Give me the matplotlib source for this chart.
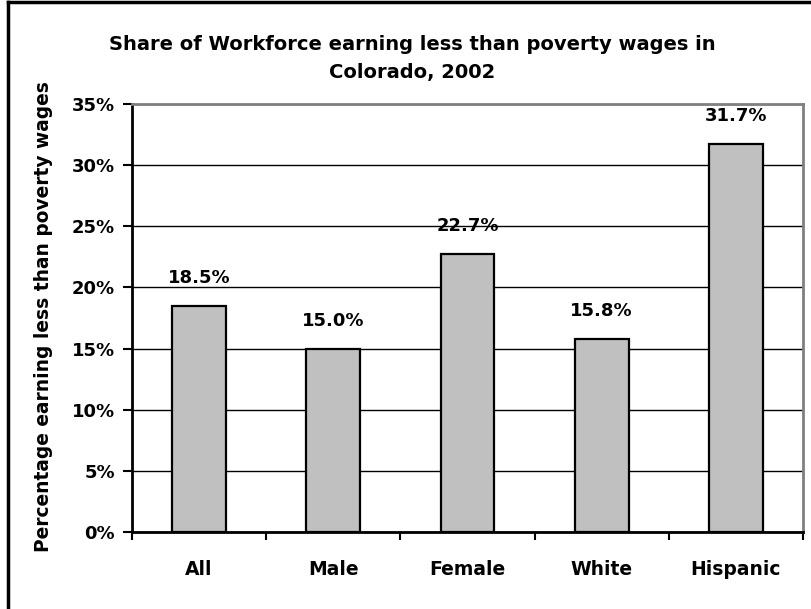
import matplotlib
matplotlib.use("Agg")
import matplotlib.pyplot as plt
from matplotlib.lines import Line2D
from matplotlib.ticker import FuncFormatter, FixedLocator
import numpy as np

# Data
categories = ["All", "Male", "Female", "White", "Hispanic"]
shares = [18.5, 15.0, 22.7, 15.8, 31.7]
y_ticks = [0, 5, 10, 15, 20, 25, 30, 35]

title_lines = ["Share of Workforce earning less than poverty wages in", "Colorado, 2002"]
y_label = "Percentage earning less than poverty wages"

plt.rcParams["font.family"] = ["DejaVu Sans"]
plt.rcParams["font.weight"] = "bold"

W, H = 811, 609
fig = plt.figure(figsize=(W / 100, H / 100), dpi=100)

# plot area in pixel coordinates
left, right, top, bottom = 132, 803, 104, 532
ax = fig.add_axes([left / W, 1 - bottom / H, (right - left) / W, (bottom - top) / H])

x = np.arange(len(categories))
ax.bar(x, shares, width=0.4, color="#C0C0C0", edgecolor="black", linewidth=1.6, zorder=3)

for xi, v in zip(x, shares):
    ax.annotate(f"{v:.1f}%", (xi, v), xytext=(0, 16.5), textcoords="offset points",
                ha="center", va="baseline", fontsize=13, fontweight="bold", zorder=4)

ax.set_xlim(-0.5, len(categories) - 0.5)
ax.set_ylim(0, 35)
ax.set_yticks(y_ticks)
ax.yaxis.set_major_formatter(FuncFormatter(lambda v, p: f"{v:.0f}%"))
ax.yaxis.grid(True, color="black", linewidth=1.0, zorder=0)
ax.set_axisbelow(True)

# category labels centred, tick marks between categories
ax.set_xticks(x)
ax.set_xticklabels(categories, fontsize=13.5, fontweight="bold")
ax.tick_params(axis="x", which="major", length=0, pad=20)
ax.xaxis.set_minor_locator(FixedLocator(np.arange(-0.5, len(categories), 1.0)))
ax.tick_params(axis="x", which="minor", length=6, width=1.5, direction="out", color="black")
ax.tick_params(axis="y", length=6.5, width=1.5, direction="out", labelsize=13, pad=5.8)
for lbl in ax.get_yticklabels():
    lbl.set_fontweight("bold")

for side in ("top", "right"):
    ax.spines[side].set_color("#808080")
    ax.spines[side].set_linewidth(2)
for side in ("left", "bottom"):
    ax.spines[side].set_color("black")
    ax.spines[side].set_linewidth(2)

# axis title, placed by its centre
fig.text(44 / W, 1 - 317 / H, y_label, rotation=90, ha="center", va="center",
         fontsize=13.4, fontweight="bold")

for line, yc in zip(title_lines, (44, 72.5)):
    fig.text(412 / W, 1 - yc / H, line, ha="center", va="center",
             fontsize=14, fontweight="bold")

# chart frame (top and left edges)
fig.add_artist(Line2D([8 / W, 8 / W], [0, 1 - 2 / H], transform=fig.transFigure,
                      color="black", linewidth=2.5))
fig.add_artist(Line2D([8 / W, 1], [1 - 2 / H, 1 - 2 / H], transform=fig.transFigure,
                      color="black", linewidth=2.5))

fig.savefig("out.png", dpi=100)
